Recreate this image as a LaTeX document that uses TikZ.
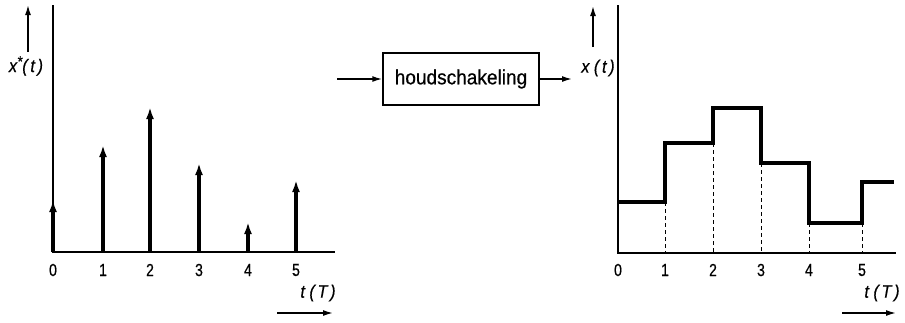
\documentclass[tikz,border=0pt]{standalone}
\usepackage{fontspec}
\usepackage{graphicx}
\setmainfont{Liberation Sans}[FakeBold=0.6]
\usetikzlibrary{arrows.meta}
\newcommand{\narrowtxt}[2]{\scalebox{#1}[1]{#2}}
\begin{document}
\begin{tikzpicture}[x=1pt,y=-1pt,
  axis/.style={line width=1.5pt},
  impulse/.style={line width=3.4pt,-{Latex[length=12pt,width=8pt]}},
  stair/.style={line width=3.4pt,line join=miter},
  guide/.style={line width=0.7pt,dash pattern=on 4pt off 3pt},
  sig/.style={line width=1.5pt,-{Latex[length=10pt,width=6pt]}},
  lbl/.style={font=\fontsize{18}{21}\selectfont\itshape,inner sep=0pt},
  num/.style={font=\fontsize{17.5}{20}\selectfont,inner sep=0pt}]
\useasboundingbox (0,0) rectangle (905,322);
% ---------- left plot ----------
\coordinate (lo) at (53,252);
\coordinate (ltop) at (53,5);
\coordinate (lend) at (335,252);
\draw[axis] (ltop) -- (lo) -- (lend);
\foreach \i/\x/\h in {0/53/200,1/103/145,2/150/107,3/199/163,4/248/222,5/296/180}{
  \coordinate (lb\i) at (\x,252);
  \coordinate (lt\i) at (\x,\h);
  \draw[impulse] (lb\i) -- (lt\i);
  \node[num] (ln\i) at (\x,270) {\narrowtxt{0.8}{\i}};
}
\node[lbl] (lx) at (26,66) {\narrowtxt{0.9}{x\raisebox{0.3em}{\fontsize{15}{15}\selectfont *}(\,t\,)}};
\coordinate (lya) at (28,52);
\coordinate (lyb) at (28,5);
\draw[sig] (lya) -- (lyb);
\node[lbl] (lt) at (318,293) {\narrowtxt{0.9}{t\;(\,T\,)}};
\coordinate (lta) at (277,313);
\coordinate (ltb) at (333,313);
\draw[sig] (lta) -- (ltb);
% ---------- block ----------
\node[draw,line width=1.5pt,minimum width=156pt,minimum height=52pt,inner sep=0pt,
  font=\fontsize{20.5}{24}\selectfont] (box) at (461,79) {\narrowtxt{0.93}{houdschakeling}};
\coordinate (bin) at (337,79);
\coordinate (bout) at (572,79);
\draw[sig] (bin) -- (box.west);
\draw[sig] (box.east) -- (bout);
% ---------- right plot ----------
\coordinate (ro) at (618,253);
\coordinate (rtop) at (618,5);
\coordinate (rend) at (896,253);
\draw[axis] (rtop) -- (ro) -- (rend);
\foreach \i/\x in {0/618,1/665,2/713,3/761,4/809,5/862}{
  \node[num] (rn\i) at (\x,270) {\narrowtxt{0.8}{\i}};
}
\coordinate (s0) at (618,202);
\coordinate (s1a) at (665,202);
\coordinate (s1b) at (665,143);
\coordinate (s2a) at (713,143);
\coordinate (s2b) at (713,108);
\coordinate (s3a) at (761,108);
\coordinate (s3b) at (761,163);
\coordinate (s4a) at (809,163);
\coordinate (s4b) at (809,223);
\coordinate (s5a) at (862,223);
\coordinate (s5b) at (862,182);
\coordinate (s6) at (894,182);
\draw[stair] (s0) -- (s1a) -- (s1b) -- (s2a) -- (s2b) -- (s3a) -- (s3b) -- (s4a) -- (s4b) -- (s5a) -- (s5b) -- (s6);
\foreach \c/\x in {s1a/665,s2a/713,s3b/761,s4b/809,s5a/862}{
  \coordinate (g\c) at (\x,253);
  \draw[guide] (\c) -- (g\c);
}
\node[lbl] (rx) at (598,68) {\narrowtxt{0.9}{x\;(\,t\,)}};
\coordinate (rya) at (593,47);
\coordinate (ryb) at (593,6);
\draw[sig] (rya) -- (ryb);
\node[lbl] (rt) at (882,293) {\narrowtxt{0.9}{t\;(\,T\,)}};
\coordinate (rta) at (842,313);
\coordinate (rtb) at (896,313);
\draw[sig] (rta) -- (rtb);
\end{tikzpicture}
\end{document}
